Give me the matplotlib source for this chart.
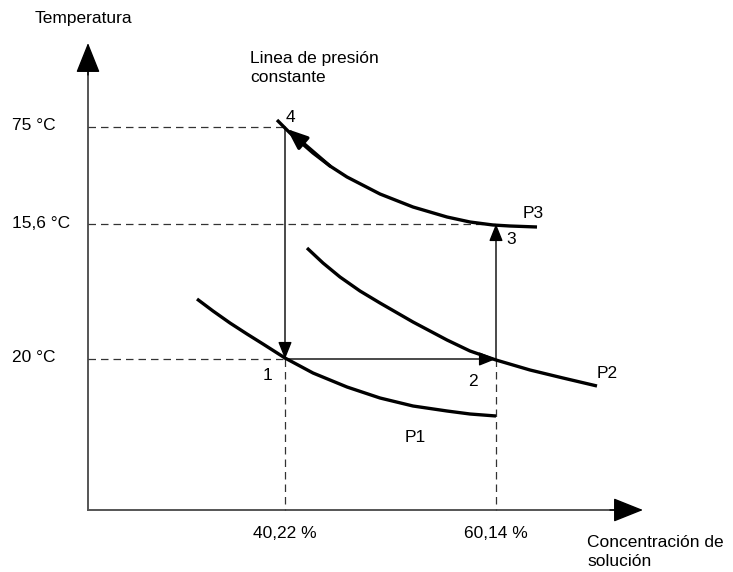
import numpy as np
import matplotlib.pyplot as plt

plt.rcParams['font.family'] = ['Liberation Sans', 'DejaVu Sans']

# diagram coordinates (x to the right, y downwards)
x_axis_y = 510
y_axis_x = 88
x_conc = [285, 496]            # 40,22 % and 60,14 %
x_conc_labels = ['40,22 %', '60,14 %']
y_temp = [127, 224, 359]        # 75, 15,6 and 20 °C
y_temp_labels = ['75 °C', '15,6 °C', '20 °C']

# constant pressure curves
p1_x = [197, 213, 230, 247, 263, 285, 313, 347, 380, 413, 447, 470, 496]
p1_y = [299, 311, 323, 334, 344, 358, 373, 387, 398, 406, 411, 414, 416]
p2_x = [307, 323, 340, 360, 380, 413, 447, 470, 496, 530, 563, 597]
p2_y = [248, 263, 277, 291, 303, 322, 340, 351, 360, 370, 378, 386]
p3_x = [277, 290, 313, 330, 347, 380, 413, 447, 470, 493, 510, 537]
p3_y = [120, 133, 153, 166, 177, 194, 207, 217, 222, 225, 226, 227]

fig = plt.figure(figsize=(7.33, 5.72), dpi=100)
ax = fig.add_axes([0, 0, 1, 1])
ax.set_xlim(0, 733)
ax.set_ylim(572, 0)
ax.axis('off')

small = dict(arrowstyle='-|>,head_length=0.95,head_width=0.38', color='black',
             lw=1.0, mutation_scale=11, shrinkA=0, shrinkB=0)
big = dict(small, mutation_scale=20)

# axes: grey shafts, black heads
ax.plot([y_axis_x, y_axis_x], [x_axis_y, 60], color='#555555', lw=1.4)
ax.plot([y_axis_x, 630], [x_axis_y, x_axis_y], color='#555555', lw=1.4)
ax.annotate('', xy=(y_axis_x, 43), xytext=(y_axis_x, 75), arrowprops=big)
ax.annotate('', xy=(643, x_axis_y), xytext=(610, x_axis_y), arrowprops=big)

# dashed guide lines
dash = dict(color='#333333', lw=0.9, ls=(0, (6, 4)))
ax.plot([y_axis_x, x_conc[0]], [y_temp[0]] * 2, **dash)
ax.plot([y_axis_x, x_conc[1]], [y_temp[1]] * 2, **dash)
ax.plot([y_axis_x, x_conc[0]], [y_temp[2]] * 2, **dash)
for xc in x_conc:
    ax.plot([xc, xc], [y_temp[2], x_axis_y], **dash)

# curves
for cx, cy in [(p1_x, p1_y), (p2_x, p2_y), (p3_x, p3_y)]:
    ax.plot(cx, cy, color='black', lw=2.4, solid_capstyle='butt',
            solid_joinstyle='round')

# process lines 4 -> 1 -> 2 -> 3 -> 4
ax.annotate('', xy=(x_conc[0], y_temp[2]), xytext=(x_conc[0], y_temp[0]),
            arrowprops=small)
ax.annotate('', xy=(x_conc[1], y_temp[2]), xytext=(x_conc[0], y_temp[2]),
            arrowprops=small)
ax.annotate('', xy=(x_conc[1], y_temp[1]), xytext=(x_conc[1], y_temp[2]),
            arrowprops=small)
ax.annotate('', xy=(287, 129), xytext=(p3_x[3], p3_y[3]),
            arrowprops=dict(small, lw=2.4, mutation_scale=13))

fs = 12.5
ax.text(35, 18, 'Temperatura', fontsize=fs, va='center', ha='left')
ax.text(250, 68, 'Linea de presión\nconstante', fontsize=fs, va='center',
        ha='left', linespacing=1.35)
ax.text(587, 552, 'Concentración de\nsolución', fontsize=fs, va='center',
        ha='left', linespacing=1.35)
for yt, lab in zip(y_temp, y_temp_labels):
    ax.text(12, yt - 1, lab, fontsize=fs, va='center', ha='left')
for xc, lab in zip(x_conc, x_conc_labels):
    ax.text(xc, 533, lab, fontsize=fs, va='center', ha='center')

for lab, px, py in [('4', 290, 117), ('3', 511, 240), ('1', 268, 376),
                    ('2', 473, 381), ('P3', 533, 214), ('P2', 607, 374),
                    ('P1', 415, 437)]:
    ax.text(px, py, lab, fontsize=fs, va='center', ha='center')

fig.savefig('out.png', dpi=100, facecolor='white')
